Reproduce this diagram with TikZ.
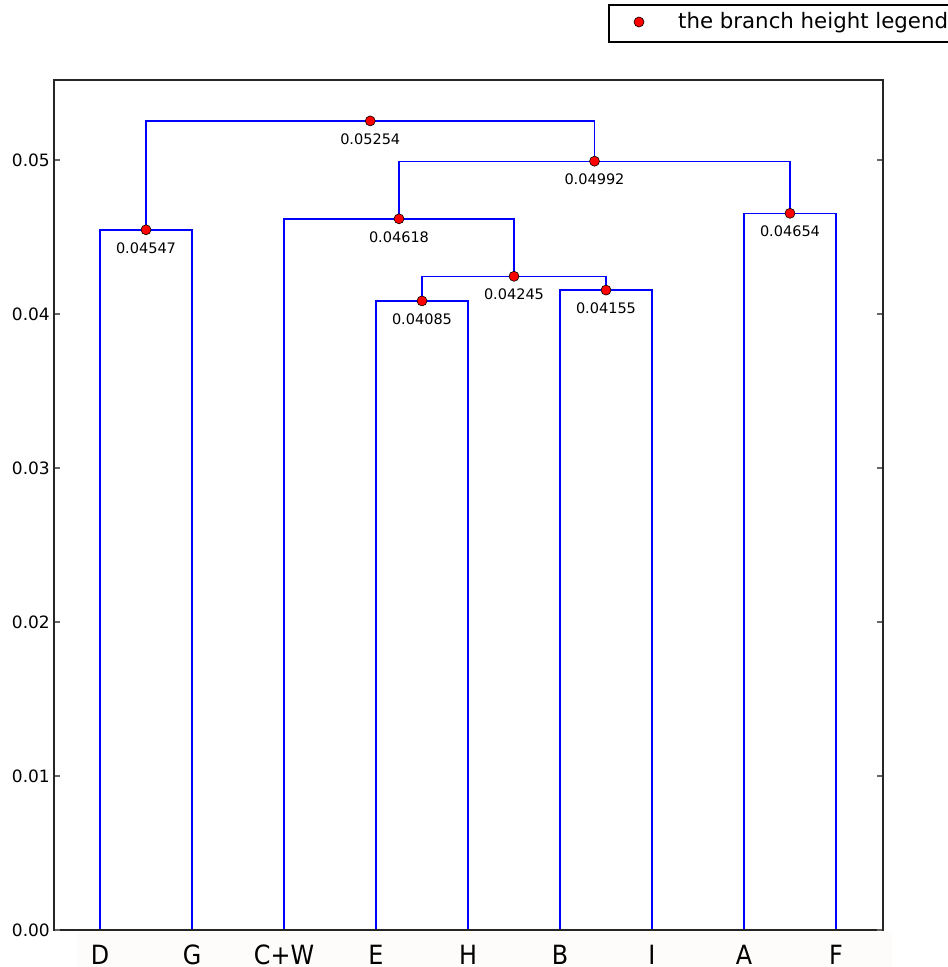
\documentclass[tikz,border=0pt]{standalone}
\usepackage{fontspec}
\setmainfont{DejaVu Sans}
\newfontfamily\leaffont[FakeStretch=0.9]{DejaVu Sans}
\definecolor{stripbg}{RGB}{253,252,250}
\begin{document}
\begin{tikzpicture}[x=1pt,y=-1pt,
  branch/.style={draw=blue, line width=1.4pt},
  mdot/.style={circle, fill=red, draw=black, line width=0.6pt, inner sep=0pt, minimum size=10pt},
  vlabel/.style={font=\fontsize{14.5}{16}\selectfont, inner sep=0pt},
  ticklabel/.style={font=\fontsize{17}{19}\selectfont, anchor=east, inner sep=0pt},
  leaflabel/.style={font=\leaffont\fontsize{26.5}{28}\selectfont, inner sep=0pt, anchor=base},
  frame/.style={draw=black!85, line width=1.5pt},
  tickmark/.style={draw=black!60, line width=1.2pt}]
\useasboundingbox (0,0) rectangle (948,967);
\fill[white] (0,0) rectangle (948,967);
% bottom label strip
\fill[stripbg] (77,932) rectangle (892,967);
% legend
\draw[black, line width=1.2pt] (950,5) -- (609,5) -- (609,42) -- (950,42);
\node[mdot] (legdot) at (639,22) {};
\node[anchor=west, inner sep=0pt, font=\fontsize{21.3}{24}\selectfont] (legtext) at (678,23) {the branch height legend};
% leaves
\foreach \n/\x in {D/100,G/192,CW/284,E/376,H/468,B/560,I/652,A/744,F/836}{
  \coordinate (\n) at (\x,930);
}
% merge points
\coordinate (mDG) at (146,229.8);
\coordinate (mEH) at (422,300.9);
\coordinate (mBI) at (606,290.1);
\coordinate (mEHBI) at (514,276.3);
\coordinate (mCW) at (399,218.8);
\coordinate (mAF) at (790,213.3);
\coordinate (mMid) at (594.5,161.2);
\coordinate (mTop) at (370.25,120.9);
% branches
\draw[branch] (D) |- (mDG) -| (G);
\draw[branch] (E) |- (mEH) -| (H);
\draw[branch] (B) |- (mBI) -| (I);
\draw[branch] (mEH) |- (mEHBI) -| (mBI);
\draw[branch] (CW) |- (mCW) -| (mEHBI);
\draw[branch] (A) |- (mAF) -| (F);
\draw[branch] (mCW) |- (mMid) -| (mAF);
\draw[branch] (mDG) |- (mTop) -| (mMid);
% frame and ticks
\draw[frame] (54,80) rectangle (883,930);
\foreach \v/\y in {0.00/930,0.01/776,0.02/622,0.03/468,0.04/314,0.05/160}{
  \draw[tickmark] (54.7,\y) -- (60,\y);
  \draw[tickmark] (882.3,\y) -- (877,\y);
  \node[ticklabel] (t\v) at (50,\y) {\v};
}
% dots and labels
\foreach \m/\t in {mDG/0.04547,mEH/0.04085,mBI/0.04155,mEHBI/0.04245,mCW/0.04618,mAF/0.04654,mMid/0.04992,mTop/0.05254}{
  \node[mdot] (d\m) at (\m) {};
  \node[vlabel] (l\m) at ([yshift=-18pt]\m) {\t};
}
% leaf labels
\foreach \n/\t in {D/D,G/G,CW/C+W,E/E,H/H,B/B,I/I,A/A,F/F}{
  \node[leaflabel] (n\n) at ([yshift=-34.5pt]\n) {\t};
}
\end{tikzpicture}
\end{document}
